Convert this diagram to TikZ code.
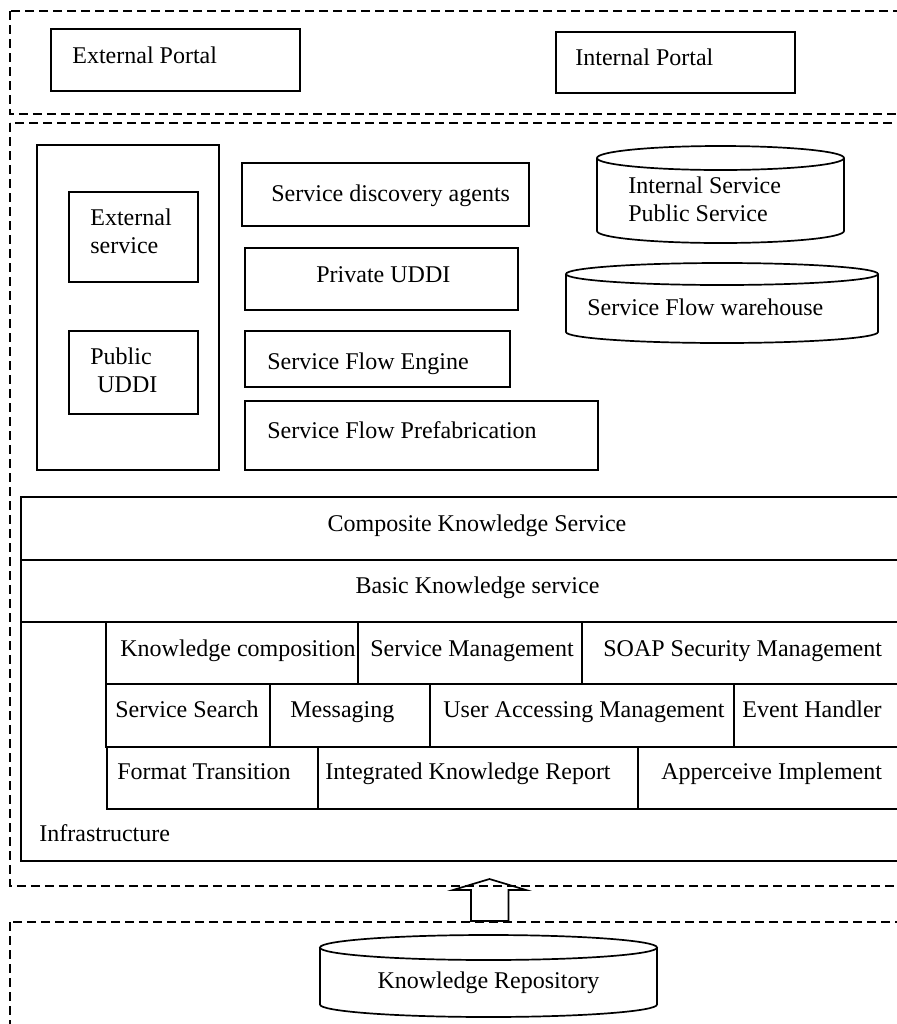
\documentclass[tikz,border=0pt]{standalone}
\usepackage{fontspec}
\setmainfont{Liberation Serif}
\usepackage{tikz}

\begin{document}
\begin{tikzpicture}[x=0.5pt,y=-0.5pt,
  zone/.style={line width=1pt,dash pattern=on 4.3pt off 2.7pt},
  box/.style={line width=0.85pt},
  lbl/.style={anchor=base west,inner sep=0pt,align=left,font=\fontsize{12}{13.6}\selectfont},
  mid/.style={anchor=base,inner sep=0pt,font=\fontsize{12}{13.6}\selectfont}]
\useasboundingbox (0,0) rectangle (897,1024);
\clip (0,0) rectangle (897,1024);
% dashed layers
\draw[zone] (10,11) rectangle (920,114);
\draw[zone] (10,123) rectangle (920,886);
\draw[zone] (10,922) rectangle (920,1040);
% portals
\draw[box] (51,29) rectangle (300,91);
\draw[box] (556,32) rectangle (795,93);
\node[lbl] (extportal) at (72,63) {External Portal};
\node[lbl] (intportal) at (575,65) {Internal Portal};
% left column
\draw[box] (37,145) rectangle (219,470);
\draw[box] (69,192) rectangle (198,282);
\draw[box] (69,331) rectangle (198,414);
% (base of a two-line label = its last line)
\node[lbl] (extsvc) at (90,253) {External\\service};
\node[lbl] (pubuddi) at (90,392) {Public\\\hspace*{3.5pt}UDDI};
% middle column
\draw[box] (242,163) rectangle (529,226);
\draw[box] (245,248) rectangle (518,310);
\draw[box] (245,331) rectangle (510,387);
\draw[box] (245,401) rectangle (598,470);
\node[lbl] (agents) at (271,201) {Service discovery agents};
\node[lbl] (privuddi) at (316,282) {Private UDDI};
\node[lbl] (flowengine) at (267,369) {Service Flow Engine};
\node[lbl] (prefab) at (267,438) {Service Flow Prefabrication};
% stores
\draw[box] (720.5,158) ellipse [x radius=61.75pt,y radius=6pt];
\draw[box] (597,158) -- (597,231) arc (180:360:61.75pt and 6pt) -- (844,158);
\node[lbl] (svcstore) at (628,221) {Internal Service\\Public Service};
\draw[box] (722,274) ellipse [x radius=78pt,y radius=5.5pt];
\draw[box] (566,274) -- (566,332) arc (180:360:78pt and 5.5pt) -- (878,274);
\node[lbl] (flowstore) at (587,315) {Service Flow warehouse};
% knowledge service layers
\draw[box] (21,497) rectangle (933,560);
\draw[box] (21,560) rectangle (933,622);
\draw[box] (21,622) rectangle (933,861);
\node[mid] (composite) at (477,531) {Composite Knowledge Service};
\node[mid] (basic) at (477.5,593) {Basic Knowledge service};
\node[lbl] (infra) at (39,841) {Infrastructure};
% infrastructure rows
\draw[box] (106,622) rectangle (358,684);
\draw[box] (358,622) rectangle (582,684);
\draw[box] (582,622) rectangle (933,684);
\draw[box] (106,684) rectangle (270,747);
\draw[box] (270,684) rectangle (430,747);
\draw[box] (430,684) rectangle (734,747);
\draw[box] (734,684) rectangle (933,747);
\draw[box] (107,747) rectangle (318,809);
\draw[box] (318,747) rectangle (638,809);
\draw[box] (638,747) rectangle (933,809);
\node[lbl] (kcomp) at (120,656) {Knowledge composition};
\node[lbl] (svcmgmt) at (370,656) {Service Management};
\node[lbl] (soapsec) at (603,656) {SOAP Security Management};
\node[lbl] (svcsearch) at (115,717) {Service Search};
\node[lbl] (messaging) at (290,717) {Messaging};
\node[lbl] (useraccess) at (443,717) {User Accessing Management};
\node[lbl] (evhandler) at (742,717) {Event Handler};
\node[lbl] (fmttrans) at (117,779) {Format Transition};
\node[lbl] (ikreport) at (325,779) {Integrated Knowledge Report};
\node[lbl] (apperceive) at (661,779) {Apperceive Implement};
% hollow arrow up from the repository
\draw[box] (471,921) -- (471,890) -- (453,890) -- (489.5,879) -- (526,890)
  -- (508.5,890) -- (508.5,921) -- cycle;
% repository
\draw[box] (488.5,947.5) ellipse [x radius=84.25pt,y radius=6.25pt];
\draw[box] (320,947.5) -- (320,1004.5) arc (180:360:84.25pt and 6.25pt) -- (657,947.5);
\node[mid] (krepo) at (488.5,988) {Knowledge Repository};
\end{tikzpicture}
\end{document}
